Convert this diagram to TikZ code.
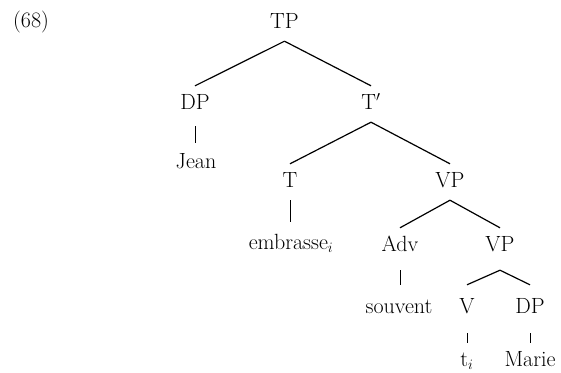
\documentclass[tikz,border=0pt]{standalone}
\usepackage{fontspec}
\begin{document}
\begin{tikzpicture}[x=1pt,y=-1pt,
  txt/.style={font=\fontsize{22}{26}\selectfont\addfontfeature{FakeBold=0.6}},
  lab/.style={txt,inner xsep=0pt,inner ysep=8pt,anchor=base,text height=15pt,text depth=5pt},
  br/.style={line width=1.2pt},
  vl/.style={line width=0.8pt}]
\useasboundingbox (0,0) rectangle (561,372);
\node[txt,inner sep=0pt,anchor=base west] (ex) at (13,27) {(68)};
\node[lab] (TP) at (284.5,28) {TP};
\node[lab] (DP) at (195,109) {DP};
\node[lab] (Tbar) at (371,109) {T$'$};
\node[lab] (Jean) at (196,168) {Jean};
\node[lab] (T) at (290,187) {T};
\node[lab] (VP) at (450,187) {VP};
\node[lab] (emb) at (291,249) {embrasse$_i$};
\node[lab] (Adv) at (400,251) {Adv};
\node[lab] (VPb) at (500,251) {VP};
\node[lab] (souvent) at (399,313) {souvent};
\node[lab] (V) at (467,313) {V};
\node[lab] (DPb) at (530,313) {DP};
\node[lab] (ti) at (467,366) {t$_i$};
\node[lab] (Marie) at (530,366) {Marie};
\draw[br] (TP.south) -- (DP.north);
\draw[br] (TP.south) -- (Tbar.north);
\draw[vl,shorten <=4pt,shorten >=2pt] (DP.south) -- (DP.south |- Jean.north);
\draw[br] (Tbar.south) -- (T.north);
\draw[br] (Tbar.south) -- (VP.north);
\draw[vl,shorten >=4pt] (T.south) -- (T.south |- emb.north);
\draw[br] (VP.south) -- (Adv.north);
\draw[br] (VP.south) -- (VPb.north);
\draw[vl,shorten <=6pt,shorten >=5pt] (Adv.south) -- (Adv.south |- souvent.north);
\draw[br] ([yshift=-6pt]VPb.south) -- ([yshift=5pt]V.north);
\draw[br] ([yshift=-6pt]VPb.south) -- ([yshift=5pt]DPb.north);
\draw[vl,shorten <=7pt,shorten >=0pt] (V.south) -- (V.south |- ti.north);
\draw[vl,shorten <=7pt,shorten >=0pt] (DPb.south) -- (DPb.south |- Marie.north);
\end{tikzpicture}
\end{document}
